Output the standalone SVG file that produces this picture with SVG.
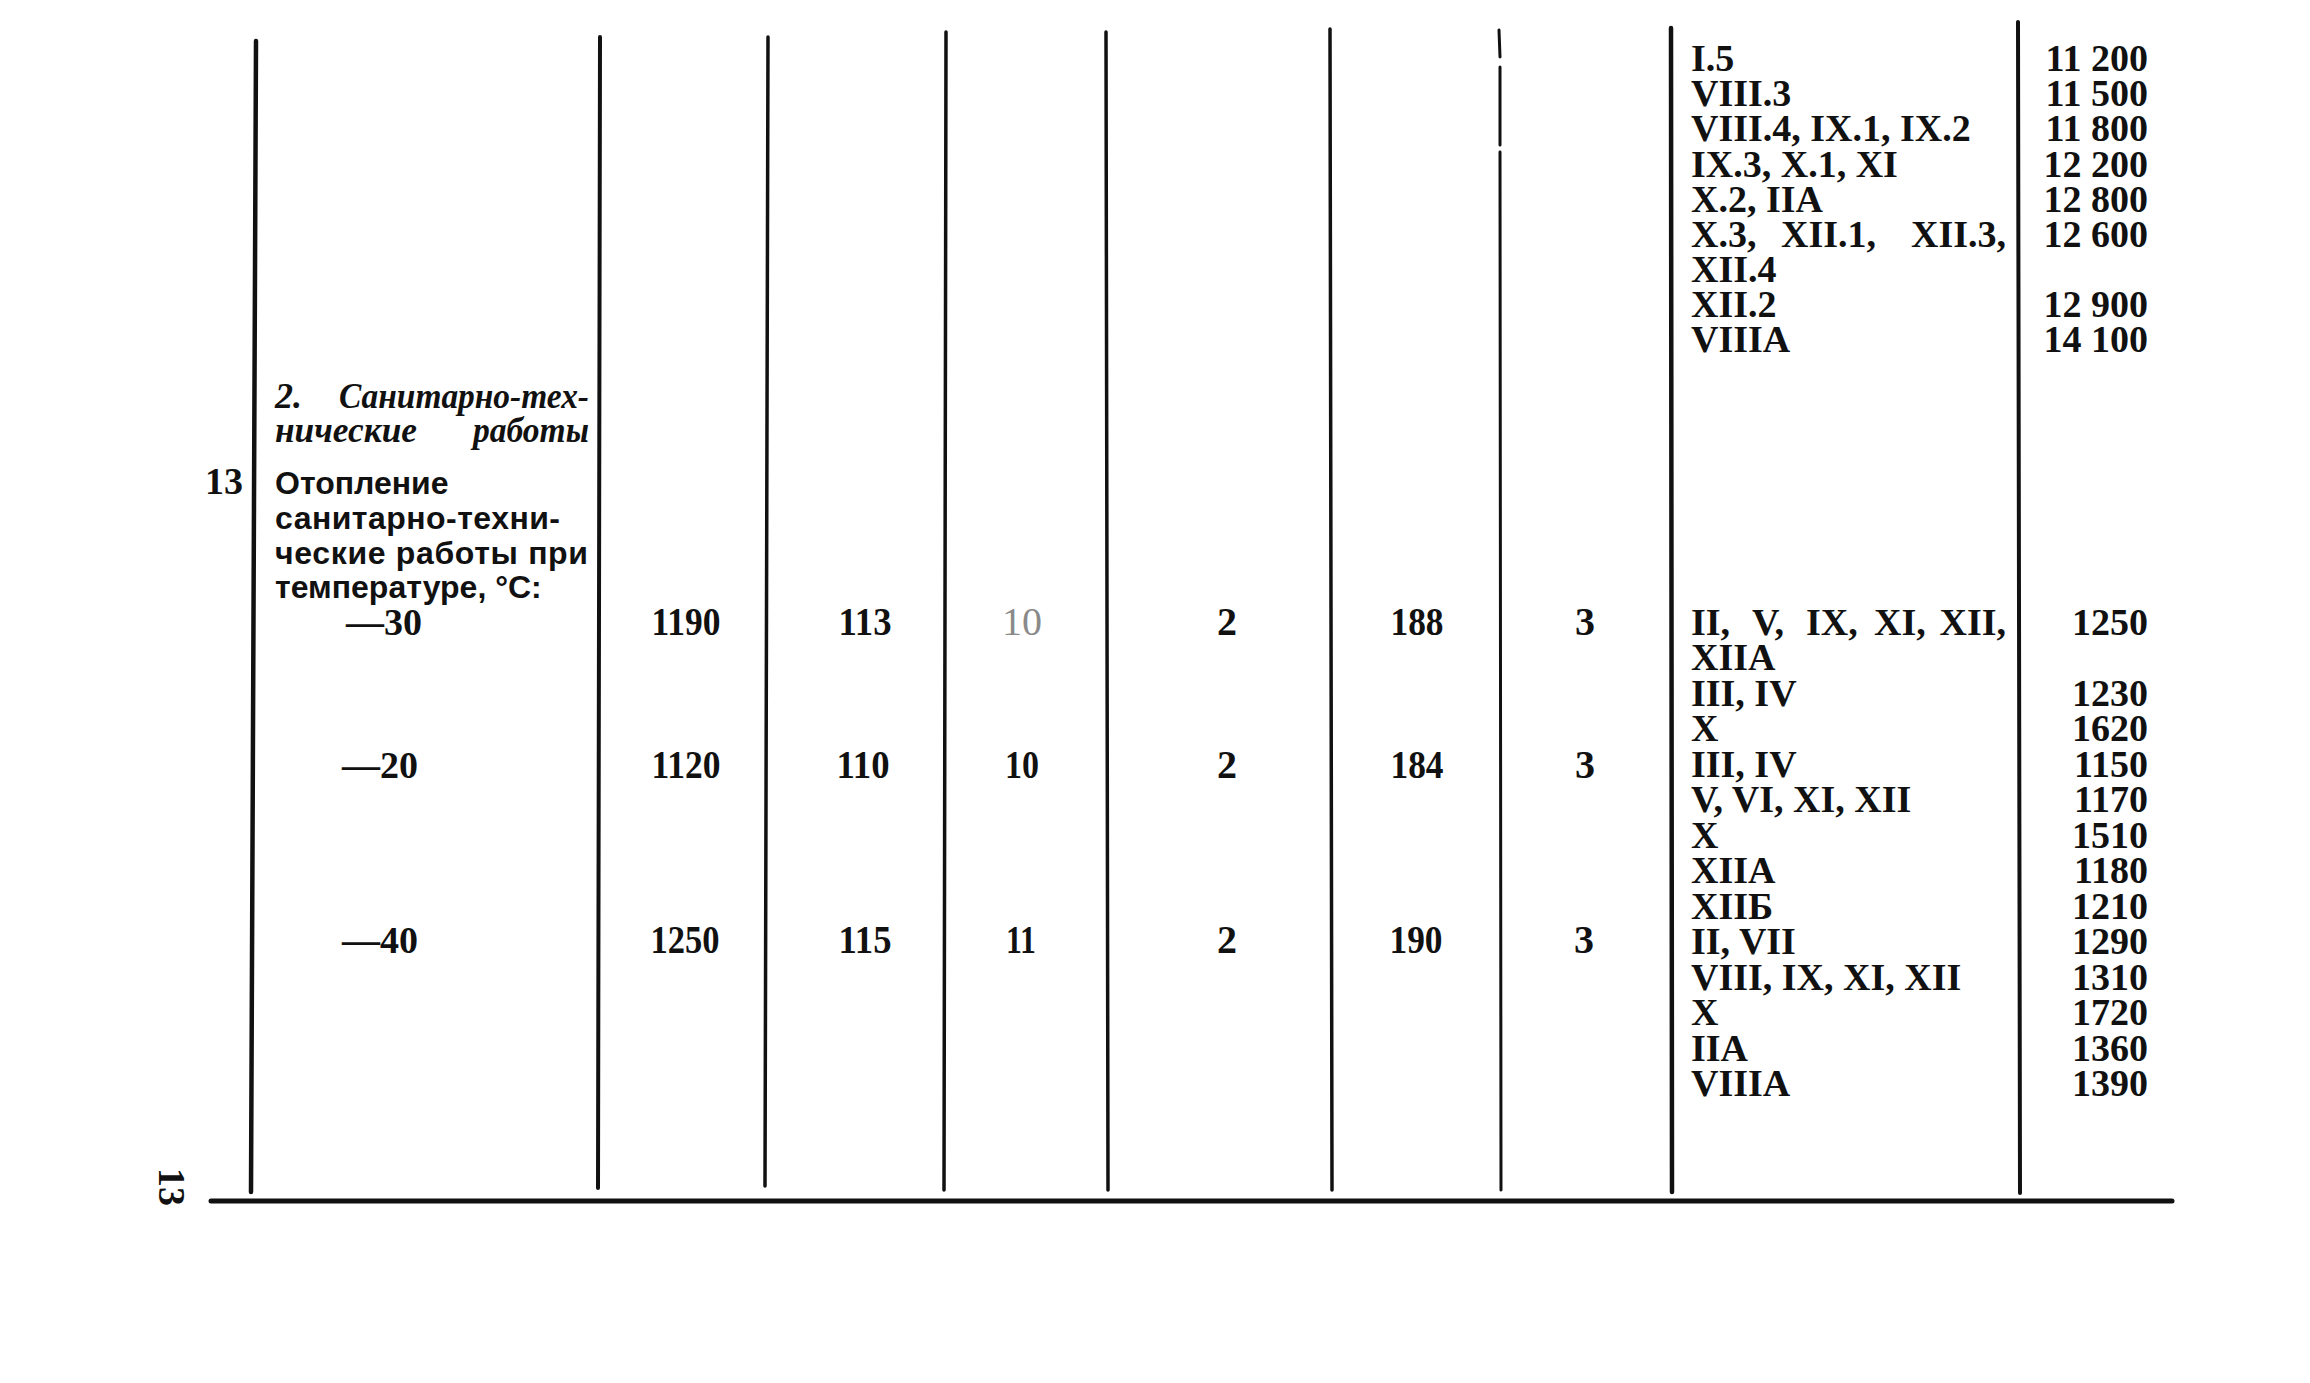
<svg xmlns="http://www.w3.org/2000/svg" width="2310" height="1383" viewBox="0 0 2310 1383">
<style>
.ln{stroke:#111;stroke-linecap:round;fill:none}
.t{font-family:"Liberation Serif",serif;font-weight:bold;font-size:38px;fill:#111}
.e{font-family:"Liberation Serif",serif;font-weight:bold;font-size:38px;fill:#111;text-anchor:end}
.m{font-family:"Liberation Serif",serif;font-weight:bold;font-size:40px;fill:#111;text-anchor:middle}
.s{font-family:"Liberation Sans","DejaVu Sans",sans-serif;font-weight:bold;font-size:32px;fill:#111}
.it{font-family:"Liberation Serif",serif;font-weight:bold;font-style:italic;font-size:36px;fill:#111}
.faint{font-weight:normal;fill:#8a8a8a}
</style>
<rect width="2310" height="1383" fill="#fff"/>
<g id="connectors">
<line class="ln" x1="256" y1="41" x2="251" y2="1192" stroke-width="4.5"/>
<line class="ln" x1="600" y1="37" x2="598" y2="1188" stroke-width="4"/>
<line class="ln" x1="768" y1="37" x2="765" y2="1186" stroke-width="3.5"/>
<line class="ln" x1="946" y1="32" x2="944" y2="1190" stroke-width="3.5"/>
<line class="ln" x1="1106" y1="32" x2="1108" y2="1190" stroke-width="3.5"/>
<line class="ln" x1="1330" y1="29" x2="1332" y2="1190" stroke-width="3.5"/>
<path class="ln" d="M1499 30 L1500 57 M1500 67 L1500 145 M1500 152 L1501 1190" stroke-width="3"/>
<line class="ln" x1="1671" y1="28" x2="1672" y2="1192" stroke-width="4.5"/>
<line class="ln" x1="2018" y1="22" x2="2020" y2="1193" stroke-width="4"/>
<line class="ln" x1="211" y1="1201" x2="2172" y2="1201" stroke-width="5"/>
</g>
<g id="page-number">
<text class="t" font-size="34" transform="translate(159,1168) rotate(90)">13</text>
</g>
<g id="left-column">
<text class="it" x="275" y="408">2.</text>
<text class="it" x="339" y="408" textLength="250" lengthAdjust="spacingAndGlyphs">Санитарно-тех-</text>
<text class="it" x="275" y="442" textLength="142" lengthAdjust="spacingAndGlyphs">нические</text>
<text class="it" x="473" y="442" textLength="116" lengthAdjust="spacingAndGlyphs">работы</text>
<text class="e" x="243" y="494" font-size="34">13</text>
<text class="s" x="275" y="494">Отопление</text>
<text class="s" x="275" y="529" textLength="285" lengthAdjust="spacing">санитарно-техни-</text>
<text class="s" x="275" y="564" textLength="313" lengthAdjust="spacing">ческие работы при</text>
<text class="s" x="275" y="598">температуре, °C:</text>
<text class="t" x="346" y="635">—30</text>
<text class="t" x="342" y="778">—20</text>
<text class="t" x="342" y="953">—40</text>
</g>
<g id="row-30">
<text class="m" x="686" y="635" textLength="69" lengthAdjust="spacingAndGlyphs">1190</text>
<text class="m" x="865" y="635" textLength="53" lengthAdjust="spacingAndGlyphs">113</text>
<text class="m faint" x="1022" y="635">10</text>
<text class="m" x="1227" y="635">2</text>
<text class="m" x="1417" y="635" textLength="53" lengthAdjust="spacingAndGlyphs">188</text>
<text class="m" x="1585" y="635">3</text>
</g>
<g id="row-20">
<text class="m" x="686" y="778" textLength="69" lengthAdjust="spacingAndGlyphs">1120</text>
<text class="m" x="863" y="778" textLength="53" lengthAdjust="spacingAndGlyphs">110</text>
<text class="m" x="1022" y="778" textLength="34" lengthAdjust="spacingAndGlyphs">10</text>
<text class="m" x="1227" y="778">2</text>
<text class="m" x="1417" y="778" textLength="53" lengthAdjust="spacingAndGlyphs">184</text>
<text class="m" x="1585" y="778">3</text>
</g>
<g id="row-40">
<text class="m" x="685" y="953" textLength="69" lengthAdjust="spacingAndGlyphs">1250</text>
<text class="m" x="865" y="953" textLength="53" lengthAdjust="spacingAndGlyphs">115</text>
<text class="m" x="1021" y="953" textLength="30" lengthAdjust="spacingAndGlyphs">11</text>
<text class="m" x="1227" y="953">2</text>
<text class="m" x="1416" y="953" textLength="53" lengthAdjust="spacingAndGlyphs">190</text>
<text class="m" x="1584" y="953">3</text>
</g>
<g id="top-block">
<text class="t" x="1691" y="71">I.5</text>
<text class="t" x="1691" y="106">VIII.3</text>
<text class="t" x="1691" y="141">VIII.4, IX.1, IX.2</text>
<text class="t" x="1691" y="177">IX.3, X.1, XI</text>
<text class="t" x="1691" y="212">X.2, IIA</text>
<text class="t" x="1691" y="247">X.3,</text>
<text class="t" x="1781" y="247">XII.1,</text>
<text class="e" x="2006" y="247">XII.3,</text>
<text class="t" x="1691" y="282">XII.4</text>
<text class="t" x="1691" y="317">XII.2</text>
<text class="t" x="1691" y="352">VIIIA</text>
<text class="e" x="2148" y="71">11 200</text>
<text class="e" x="2148" y="106">11 500</text>
<text class="e" x="2148" y="141">11 800</text>
<text class="e" x="2148" y="177">12 200</text>
<text class="e" x="2148" y="212">12 800</text>
<text class="e" x="2148" y="247">12 600</text>
<text class="e" x="2148" y="317">12 900</text>
<text class="e" x="2148" y="352">14 100</text>
</g>
<g id="bottom-block">
<text class="t" x="1691" y="635">II,</text>
<text class="t" x="1752" y="635">V,</text>
<text class="t" x="1806" y="635">IX,</text>
<text class="t" x="1874" y="635">XI,</text>
<text class="e" x="2006" y="635">XII,</text>
<text class="t" x="1691" y="670">XIIA</text>
<text class="t" x="1691" y="706">III, IV</text>
<text class="t" x="1691" y="741">X</text>
<text class="t" x="1691" y="777">III, IV</text>
<text class="t" x="1691" y="812">V, VI, XI, XII</text>
<text class="t" x="1691" y="848">X</text>
<text class="t" x="1691" y="883">XIIA</text>
<text class="t" x="1691" y="919">XIIБ</text>
<text class="t" x="1691" y="954">II, VII</text>
<text class="t" x="1691" y="990">VIII, IX, XI, XII</text>
<text class="t" x="1691" y="1025">X</text>
<text class="t" x="1691" y="1061">IIA</text>
<text class="t" x="1691" y="1096">VIIIA</text>
<text class="e" x="2148" y="635">1250</text>
<text class="e" x="2148" y="706">1230</text>
<text class="e" x="2148" y="741">1620</text>
<text class="e" x="2148" y="777">1150</text>
<text class="e" x="2148" y="812">1170</text>
<text class="e" x="2148" y="848">1510</text>
<text class="e" x="2148" y="883">1180</text>
<text class="e" x="2148" y="919">1210</text>
<text class="e" x="2148" y="954">1290</text>
<text class="e" x="2148" y="990">1310</text>
<text class="e" x="2148" y="1025">1720</text>
<text class="e" x="2148" y="1061">1360</text>
<text class="e" x="2148" y="1096">1390</text>
</g>
</svg>
